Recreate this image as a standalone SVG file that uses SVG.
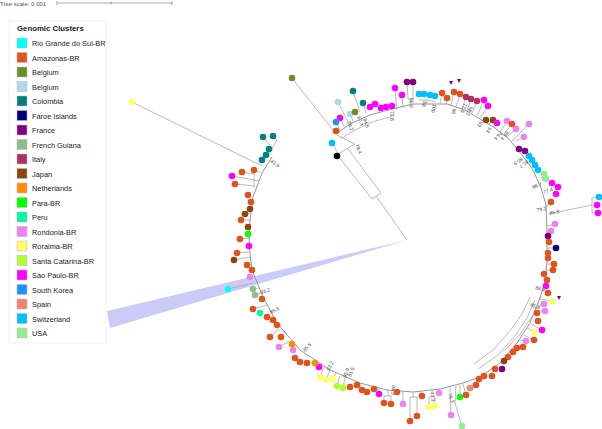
<svg xmlns="http://www.w3.org/2000/svg" width="602" height="429" viewBox="0 0 602 429">
<style>
text{font-family:"Liberation Sans",Arial,sans-serif}
.lt{font-size:7.4px;fill:#222}
.bs{font-size:5px;fill:#444}
.ln{stroke:#a8a8a8;stroke-width:0.8;fill:none}
.bb{stroke:#8a8a8a;stroke-width:0.9;fill:none}
.sw{stroke:#bbb;stroke-width:0.5}
circle{r:3.3px}
.rg{fill:#00FFFF}.am{fill:#E2521C}.be1{fill:#6B8E23}.be2{fill:#ADD8E6}.co{fill:#008080}.fa{fill:#000080}.fr{fill:#800080}.fg{fill:#8FBC8F}.it{fill:#B03060}.ja{fill:#8B4513}.ne{fill:#FF8C00}.pa{fill:#00FF00}.pe{fill:#00FA9A}.ro{fill:#EE82EE}.rr{fill:#FFFF66}.sc{fill:#ADFF2F}.sp{fill:#FF00FF}.sk{fill:#1E90FF}.es{fill:#FA8072}.sz{fill:#00BFFF}.us{fill:#90EE90}.bk{fill:#000}
</style>
<rect width="602" height="429" fill="#fff"/>
<g id="scale">
<text x="0" y="5.5" style="font-size:6px;fill:#555">Tree scale: 0.001</text>
<line x1="57" y1="3" x2="172" y2="3" stroke="#888" stroke-width="0.7"/>
<line x1="57" y1="1" x2="57" y2="5" stroke="#888" stroke-width="0.7"/>
<line x1="111" y1="1.5" x2="111" y2="4.5" stroke="#888" stroke-width="0.7"/>
<line x1="172" y1="1" x2="172" y2="5" stroke="#888" stroke-width="0.7"/>
</g>
<polygon id="highlight" points="407,240 107,311 110,328" fill="#cbcbf7"/>
<g id="legend">
<rect x="9" y="21" width="97" height="322" fill="#fff" stroke="#eee" stroke-width="0.8"/>
<text x="17" y="31" style="font-size:7.8px;font-weight:bold;fill:#222">Genomic Clusters</text>
<g class="sw">
<rect class="rg" x="17" y="38" width="10" height="10"/>
<rect class="am" x="17" y="52.5" width="10" height="10"/>
<rect class="be1" x="17" y="67" width="10" height="10"/>
<rect class="be2" x="17" y="81.5" width="10" height="10"/>
<rect class="co" x="17" y="96" width="10" height="10"/>
<rect class="fa" x="17" y="110.5" width="10" height="10"/>
<rect class="fr" x="17" y="125" width="10" height="10"/>
<rect class="fg" x="17" y="139.5" width="10" height="10"/>
<rect class="it" x="17" y="154" width="10" height="10"/>
<rect class="ja" x="17" y="168.5" width="10" height="10"/>
<rect class="ne" x="17" y="183" width="10" height="10"/>
<rect class="pa" x="17" y="197.5" width="10" height="10"/>
<rect class="pe" x="17" y="212" width="10" height="10"/>
<rect class="ro" x="17" y="226.5" width="10" height="10"/>
<rect class="rr" x="17" y="241" width="10" height="10"/>
<rect class="sc" x="17" y="255.5" width="10" height="10"/>
<rect class="sp" x="17" y="270" width="10" height="10"/>
<rect class="sk" x="17" y="284.5" width="10" height="10"/>
<rect class="es" x="17" y="299" width="10" height="10"/>
<rect class="sz" x="17" y="313.5" width="10" height="10"/>
<rect class="us" x="17" y="328" width="10" height="10"/>
</g>
<text class="lt" x="32" y="46">Rio Grande do Sul-BR</text>
<text class="lt" x="32" y="60.5">Amazonas-BR</text>
<text class="lt" x="32" y="75">Belgium</text>
<text class="lt" x="32" y="89.5">Belgium</text>
<text class="lt" x="32" y="104">Colombia</text>
<text class="lt" x="32" y="118.5">Faroe Islands</text>
<text class="lt" x="32" y="133">France</text>
<text class="lt" x="32" y="147.5">French Guiana</text>
<text class="lt" x="32" y="162">Italy</text>
<text class="lt" x="32" y="176.5">Japan</text>
<text class="lt" x="32" y="191">Netherlands</text>
<text class="lt" x="32" y="205.5">Para-BR</text>
<text class="lt" x="32" y="220">Peru</text>
<text class="lt" x="32" y="234.5">Rondonia-BR</text>
<text class="lt" x="32" y="249">Roraima-BR</text>
<text class="lt" x="32" y="263.5">Santa Catarina-BR</text>
<text class="lt" x="32" y="278">Sao Paulo-BR</text>
<text class="lt" x="32" y="292.5">South Korea</text>
<text class="lt" x="32" y="307">Spain</text>
<text class="lt" x="32" y="321.5">Switzerland</text>
<text class="lt" x="32" y="336">USA</text>
</g>
<g id="connectors">
<polyline class="bb" points="336,134 350,124 370,115 392,109 413,104 447,104 465,110 480,119 495,128 510,140 522,155 533,170 541,188 546,205 547,233 547,260 545,283 538,303 530,323 517,343 500,363 480,377 463,383 440,389 413,392 387,390 360,383 330,370 300,350 277,323 263,297 252,270 249,245 250,220 253,197 262,173 272,157"/>
<polyline class="ln" points="340,139 355,130 372,122 390,117"/>
<polyline class="ln" points="535,300 527,318 515,336 498,355 478,369"/>
<polyline class="ln" points="530,297 522,314 510,331 493,350 474,364"/>
<polyline class="ln" points="541,296 533,315 521,333 505,350"/>
<line class="ln" x1="407" y1="240" x2="376" y2="196"/>
<line class="ln" x1="372" y1="199" x2="381" y2="193"/>
<line class="ln" x1="372" y1="199" x2="339" y2="157"/>
<line class="ln" x1="381" y1="193" x2="348" y2="149"/>
<line class="ln" x1="338" y1="154" x2="355" y2="144"/>
<line class="ln" x1="338" y1="154" x2="333" y2="144"/>
<line class="ln" x1="355" y1="144" x2="337" y2="135"/>
<line class="ln" x1="292" y1="78" x2="336" y2="134"/>
<line class="ln" x1="132" y1="102" x2="262" y2="166"/>
<line class="ln" x1="228" y1="289" x2="254" y2="283"/>
<line class="ln" x1="338" y1="102" x2="349" y2="124"/>
<line class="ln" x1="353" y1="91" x2="360" y2="112"/>
<line class="ln" x1="363" y1="103" x2="366" y2="113"/>
<line class="ln" x1="350" y1="114" x2="353" y2="121"/>
<line class="ln" x1="340" y1="118" x2="344" y2="126"/>
<line class="ln" x1="336" y1="122" x2="340" y2="130"/>
<line class="ln" x1="395" y1="88" x2="397" y2="110"/>
<line class="ln" x1="402" y1="95" x2="403" y2="108"/>
<line class="ln" x1="407" y1="82" x2="408" y2="99"/>
<line class="ln" x1="413" y1="82" x2="413" y2="99"/>
<line class="ln" x1="408" y1="99" x2="413" y2="99"/>
<line class="ln" x1="410" y1="99" x2="410" y2="105"/>
<polyline class="ln" points="419,100 427,100 436,102"/>
<line class="ln" x1="427" y1="100" x2="427" y2="104"/>
<line class="ln" x1="442" y1="93" x2="440" y2="104"/>
<line class="ln" x1="447" y1="98" x2="446" y2="104"/>
<line class="ln" x1="454" y1="92" x2="451" y2="105"/>
<line class="ln" x1="460" y1="94" x2="456" y2="107"/>
<line class="ln" x1="466" y1="97" x2="462" y2="109"/>
<line class="ln" x1="471" y1="99" x2="467" y2="111"/>
<line class="ln" x1="477" y1="101" x2="472" y2="113"/>
<line class="ln" x1="484" y1="100" x2="477" y2="116"/>
<line class="ln" x1="488" y1="106" x2="480" y2="118"/>
<line class="ln" x1="493" y1="120" x2="489" y2="124"/>
<line class="ln" x1="507" y1="121" x2="500" y2="132"/>
<line class="ln" x1="512" y1="124" x2="504" y2="134"/>
<line class="ln" x1="516" y1="129" x2="507" y2="137"/>
<line class="ln" x1="529" y1="124" x2="512" y2="141"/>
<line class="ln" x1="524" y1="137" x2="516" y2="141"/>
<line class="ln" x1="551" y1="202" x2="546" y2="207"/>
<line class="ln" x1="548" y1="214" x2="592" y2="205"/>
<line class="ln" x1="592" y1="198" x2="592" y2="213"/>
<line class="ln" x1="592" y1="198" x2="597" y2="197"/>
<line class="ln" x1="592" y1="213" x2="595" y2="213"/>
<line class="ln" x1="555" y1="224" x2="547" y2="226"/>
<line class="ln" x1="551" y1="231" x2="547" y2="231"/>
<line class="ln" x1="556" y1="248" x2="547" y2="248"/>
<line class="ln" x1="554" y1="264" x2="547" y2="264"/>
<line class="ln" x1="553" y1="270" x2="547" y2="270"/>
<line class="ln" x1="552" y1="301" x2="540" y2="299"/>
<line class="ln" x1="544" y1="304" x2="538" y2="306"/>
<line class="ln" x1="545" y1="311" x2="535" y2="311"/>
<line class="ln" x1="542" y1="330" x2="531" y2="324"/>
<line class="ln" x1="535" y1="332" x2="527" y2="328"/>
<line class="ln" x1="534" y1="340" x2="524" y2="335"/>
<line class="ln" x1="526" y1="341" x2="519" y2="340"/>
<line class="ln" x1="466" y1="395" x2="463" y2="384"/>
<line class="ln" x1="460" y1="397" x2="460" y2="385"/>
<polyline class="ln" points="462,426 455,403 456,386"/>
<line class="ln" x1="451" y1="415" x2="450" y2="387"/>
<line class="ln" x1="429" y1="407" x2="429" y2="397"/>
<line class="ln" x1="435" y1="406" x2="435" y2="397"/>
<line class="ln" x1="429" y1="397" x2="435" y2="397"/>
<line class="ln" x1="432" y1="397" x2="432" y2="390"/>
<line class="ln" x1="422" y1="396" x2="421" y2="391"/>
<line class="ln" x1="417" y1="416" x2="417" y2="397"/>
<line class="ln" x1="410" y1="421" x2="410" y2="397"/>
<line class="ln" x1="410" y1="397" x2="417" y2="397"/>
<line class="ln" x1="413" y1="397" x2="413" y2="392"/>
<line class="ln" x1="403" y1="404" x2="403" y2="392"/>
<line class="ln" x1="391" y1="404" x2="391" y2="396"/>
<line class="ln" x1="384" y1="403" x2="384" y2="396"/>
<line class="ln" x1="384" y1="396" x2="391" y2="396"/>
<line class="ln" x1="388" y1="396" x2="388" y2="390"/>
<line class="ln" x1="379" y1="394" x2="378" y2="388"/>
<line class="ln" x1="343" y1="388" x2="345" y2="378"/>
<line class="ln" x1="337" y1="386" x2="340" y2="376"/>
<line class="ln" x1="320" y1="377" x2="324" y2="367"/>
<line class="ln" x1="326" y1="380" x2="330" y2="370"/>
<line class="ln" x1="333" y1="379" x2="336" y2="373"/>
<line class="ln" x1="279" y1="347" x2="290" y2="341"/>
<line class="ln" x1="293" y1="350" x2="296" y2="346"/>
<line class="ln" x1="270" y1="337" x2="279" y2="329"/>
<line class="ln" x1="281" y1="337" x2="284" y2="332"/>
<line class="ln" x1="253" y1="309" x2="267" y2="305"/>
<line class="ln" x1="253" y1="289" x2="259" y2="288"/>
<line class="ln" x1="255" y1="295" x2="261" y2="293"/>
<line class="ln" x1="247" y1="265" x2="252" y2="264"/>
<line class="ln" x1="237" y1="253" x2="249" y2="252"/>
<line class="ln" x1="234" y1="260" x2="250" y2="257"/>
<line class="ln" x1="240" y1="239" x2="249" y2="238"/>
<line class="ln" x1="241" y1="220" x2="250" y2="220"/>
<line class="ln" x1="245" y1="214" x2="250" y2="213"/>
<line class="ln" x1="242" y1="172" x2="254" y2="174"/>
<line class="ln" x1="232" y1="176" x2="254" y2="180"/>
<line class="ln" x1="235" y1="184" x2="254" y2="186"/>
<line class="ln" x1="254" y1="172" x2="254" y2="188"/>
<line class="ln" x1="254" y1="180" x2="258" y2="181"/>
<line class="ln" x1="254" y1="170" x2="260" y2="172"/>
<line class="ln" x1="263" y1="137" x2="270" y2="145"/>
<line class="ln" x1="273" y1="136" x2="277" y2="140"/>
<line class="ln" x1="277" y1="140" x2="268" y2="156"/>
</g>
<g id="bootstrap">
<text class="bs" transform="translate(347,122) rotate(68)">79.2</text>
<text class="bs" transform="translate(357,117) rotate(70)">67.3</text>
<text class="bs" transform="translate(363,119) rotate(72)">84.5</text>
<text class="bs" transform="translate(390,111) rotate(90)">79.6</text>
<text class="bs" transform="translate(355,145) rotate(67)">79.4</text>
<text class="bs" transform="translate(410,98) rotate(92)">96.9</text>
<text class="bs" transform="translate(423,101) rotate(98)">58</text>
<text class="bs" transform="translate(433,104) rotate(102)">100</text>
<text class="bs" transform="translate(453,108) rotate(108)">96</text>
<text class="bs" transform="translate(464,103) rotate(112)">77.5</text>
<text class="bs" transform="translate(470,106) rotate(115)">68.2</text>
<text class="bs" transform="translate(480,121) rotate(120)">93</text>
<text class="bs" transform="translate(489,127) rotate(125)">93</text>
<text class="bs" transform="translate(500,131) rotate(130)">74.4</text>
<text class="bs" transform="translate(507,131) rotate(132)">86.3</text>
<text class="bs" transform="translate(521,157) rotate(142)">85.9</text>
<text class="bs" transform="translate(527,160) rotate(145)">61.7</text>
<text class="bs" transform="translate(542,181) rotate(-25)">75</text>
<text class="bs" transform="translate(533,189) rotate(-22)">96.7</text>
<text class="bs" transform="translate(544,194) rotate(-20)">77.4</text>
<text class="bs" transform="translate(537,212) rotate(-12)">79.2</text>
<text class="bs" transform="translate(550,215) rotate(-12)">85.9</text>
<text class="bs" transform="translate(535,289) rotate(15)">88.6</text>
<text class="bs" transform="translate(530,306) rotate(22)">85.8</text>
<text class="bs" transform="translate(430,392) rotate(80)">77.3</text>
<text class="bs" transform="translate(448,394) rotate(72)">76.3</text>
<text class="bs" transform="translate(392,385) rotate(94)">94.3</text>
<text class="bs" transform="translate(261,294) rotate(-17)">93.2</text>
<text class="bs" transform="translate(271,314) rotate(-26)">85.5</text>
<text class="bs" transform="translate(305,352) rotate(-48)">85.5</text>
<text class="bs" transform="translate(329,371) rotate(-60)">92.2</text>
<text class="bs" transform="translate(346,378) rotate(-68)">85.9</text>
<text class="bs" transform="translate(351,377) rotate(-70)">81.5</text>
<text class="bs" transform="translate(270,162) rotate(35)">83.9</text>
</g>
<g id="tips">
<circle class="be1" cx="292" cy="78"/>
<circle class="be2" cx="338" cy="102"/>
<circle class="co" cx="353" cy="91"/>
<circle class="co" cx="363" cy="103"/>
<circle class="be2" cx="350" cy="114"/>
<circle class="be1" cx="355" cy="112"/>
<circle class="sp" cx="340" cy="118"/>
<circle class="sk" cx="336" cy="122"/>
<circle class="am" cx="336" cy="131"/>
<circle class="sp" cx="370" cy="107"/>
<circle class="sp" cx="375" cy="104"/>
<circle class="sp" cx="381" cy="108"/>
<circle class="sp" cx="386" cy="107"/>
<circle class="sp" cx="392" cy="106"/>
<circle class="sp" cx="395" cy="88"/>
<circle class="sp" cx="402" cy="95"/>
<circle class="fr" cx="407" cy="82"/>
<circle class="fr" cx="413" cy="82"/>
<circle class="sz" cx="419" cy="94"/>
<circle class="sz" cx="424" cy="94"/>
<circle class="sz" cx="430" cy="95"/>
<circle class="sz" cx="435" cy="96"/>
<circle class="sz" cx="332" cy="143"/>
<circle class="bk" cx="337" cy="156"/>
<circle class="am" cx="442" cy="93"/>
<circle class="am" cx="447" cy="98"/>
<circle class="am" cx="454" cy="92"/>
<circle class="am" cx="460" cy="94"/>
<polygon class="fr" points="449,81 453,81 451,85"/>
<polygon class="fr" points="457,79 461,79 459,83"/>
<circle class="it" cx="466" cy="97"/>
<circle class="it" cx="471" cy="99"/>
<circle class="it" cx="477" cy="101"/>
<circle class="sp" cx="484" cy="100"/>
<circle class="sp" cx="488" cy="106"/>
<circle class="ja" cx="486" cy="120"/>
<circle class="ja" cx="493" cy="120"/>
<circle class="sp" cx="497" cy="123"/>
<circle class="ro" cx="507" cy="121"/>
<circle class="am" cx="512" cy="124"/>
<circle class="ro" cx="516" cy="129"/>
<circle class="ro" cx="529" cy="124"/>
<circle class="ro" cx="524" cy="137"/>
<circle class="fr" cx="519" cy="149"/>
<circle class="fr" cx="525" cy="151"/>
<circle class="sz" cx="529" cy="156"/>
<circle class="sz" cx="532" cy="160"/>
<circle class="sz" cx="535" cy="165"/>
<circle class="sz" cx="538" cy="170"/>
<circle class="us" cx="544" cy="174"/>
<circle class="us" cx="546" cy="179"/>
<circle class="sp" cx="552" cy="183"/>
<circle class="sp" cx="558" cy="187"/>
<circle class="sp" cx="556" cy="194"/>
<circle class="am" cx="551" cy="202"/>
<circle class="sz" cx="599" cy="197"/>
<circle class="sp" cx="597" cy="205"/>
<circle class="sp" cx="598" cy="213"/>
<circle class="ro" cx="555" cy="224"/>
<circle class="ro" cx="551" cy="231"/>
<circle class="fr" cx="548" cy="236"/>
<circle class="am" cx="549" cy="242"/>
<circle class="fa" cx="556" cy="248"/>
<circle class="am" cx="548" cy="253"/>
<circle class="am" cx="548" cy="258"/>
<circle class="am" cx="554" cy="264"/>
<circle class="am" cx="553" cy="270"/>
<circle class="am" cx="544" cy="274"/>
<circle class="am" cx="547" cy="280"/>
<circle class="sp" cx="546" cy="286"/>
<circle class="am" cx="548" cy="293"/>
<polygon class="fr" points="557,296 561,296 559,300"/>
<circle class="rr" cx="552" cy="301"/>
<circle class="ro" cx="544" cy="304"/>
<circle class="ro" cx="545" cy="311"/>
<circle class="am" cx="537" cy="313"/>
<circle class="am" cx="538" cy="321"/>
<circle class="sp" cx="542" cy="330"/>
<circle class="rr" cx="535" cy="332"/>
<circle class="am" cx="534" cy="340"/>
<circle class="ro" cx="526" cy="341"/>
<circle class="am" cx="523" cy="347"/>
<circle class="am" cx="517" cy="348"/>
<circle class="am" cx="513" cy="352"/>
<circle class="am" cx="508" cy="357"/>
<circle class="ja" cx="504" cy="361"/>
<circle class="fr" cx="502" cy="369"/>
<circle class="am" cx="495" cy="369"/>
<circle class="am" cx="492" cy="376"/>
<circle class="am" cx="484" cy="376"/>
<circle class="am" cx="479" cy="379"/>
<circle class="am" cx="476" cy="385"/>
<circle class="es" cx="470" cy="388"/>
<circle class="am" cx="466" cy="395"/>
<circle class="pa" cx="460" cy="397"/>
<circle class="us" cx="462" cy="426"/>
<circle class="ro" cx="451" cy="415"/>
<circle class="ro" cx="439" cy="393"/>
<circle class="rr" cx="429" cy="407"/>
<circle class="rr" cx="435" cy="406"/>
<circle class="am" cx="422" cy="396"/>
<circle class="am" cx="417" cy="416"/>
<circle class="am" cx="410" cy="421"/>
<circle class="ro" cx="403" cy="404"/>
<circle class="am" cx="397" cy="392"/>
<circle class="am" cx="391" cy="404"/>
<circle class="am" cx="384" cy="403"/>
<circle class="sp" cx="379" cy="394"/>
<circle class="am" cx="374" cy="389"/>
<circle class="am" cx="367" cy="392"/>
<circle class="am" cx="362" cy="390"/>
<circle class="am" cx="357" cy="385"/>
<circle class="am" cx="350" cy="387"/>
<circle class="sc" cx="343" cy="388"/>
<circle class="sc" cx="337" cy="386"/>
<circle class="rr" cx="333" cy="379"/>
<circle class="rr" cx="326" cy="380"/>
<circle class="rr" cx="320" cy="377"/>
<circle class="sp" cx="319" cy="367"/>
<circle class="ne" cx="315" cy="363"/>
<circle class="am" cx="307" cy="363"/>
<circle class="am" cx="300" cy="362"/>
<circle class="am" cx="295" cy="358"/>
<circle class="ro" cx="293" cy="350"/>
<circle class="ro" cx="279" cy="347"/>
<circle class="ne" cx="292" cy="344"/>
<circle class="am" cx="281" cy="337"/>
<circle class="am" cx="270" cy="337"/>
<circle class="am" cx="277" cy="325"/>
<circle class="am" cx="273" cy="320"/>
<circle class="am" cx="267" cy="317"/>
<circle class="pe" cx="260" cy="313"/>
<circle class="am" cx="253" cy="309"/>
<circle class="am" cx="262" cy="299"/>
<circle class="fg" cx="253" cy="289"/>
<circle class="fg" cx="255" cy="295"/>
<circle class="rg" cx="228" cy="289"/>
<circle class="ro" cx="250" cy="277"/>
<circle class="am" cx="252" cy="270"/>
<circle class="am" cx="247" cy="265"/>
<circle class="ja" cx="234" cy="260"/>
<circle class="am" cx="237" cy="253"/>
<circle class="sp" cx="249" cy="246"/>
<circle class="am" cx="240" cy="239"/>
<circle class="pa" cx="248" cy="234"/>
<circle class="ja" cx="248" cy="227"/>
<circle class="am" cx="241" cy="220"/>
<circle class="ja" cx="245" cy="214"/>
<circle class="ja" cx="250" cy="209"/>
<circle class="am" cx="251" cy="202"/>
<circle class="am" cx="248" cy="195"/>
<circle class="am" cx="235" cy="184"/>
<circle class="sp" cx="232" cy="176"/>
<circle class="am" cx="242" cy="172"/>
<circle class="am" cx="254" cy="170"/>
<circle class="co" cx="262" cy="160"/>
<circle class="co" cx="266" cy="155"/>
<circle class="co" cx="269" cy="149"/>
<circle class="co" cx="263" cy="137"/>
<circle class="co" cx="273" cy="136"/>
<circle class="rr" cx="132" cy="102"/>
</g>
</svg>
